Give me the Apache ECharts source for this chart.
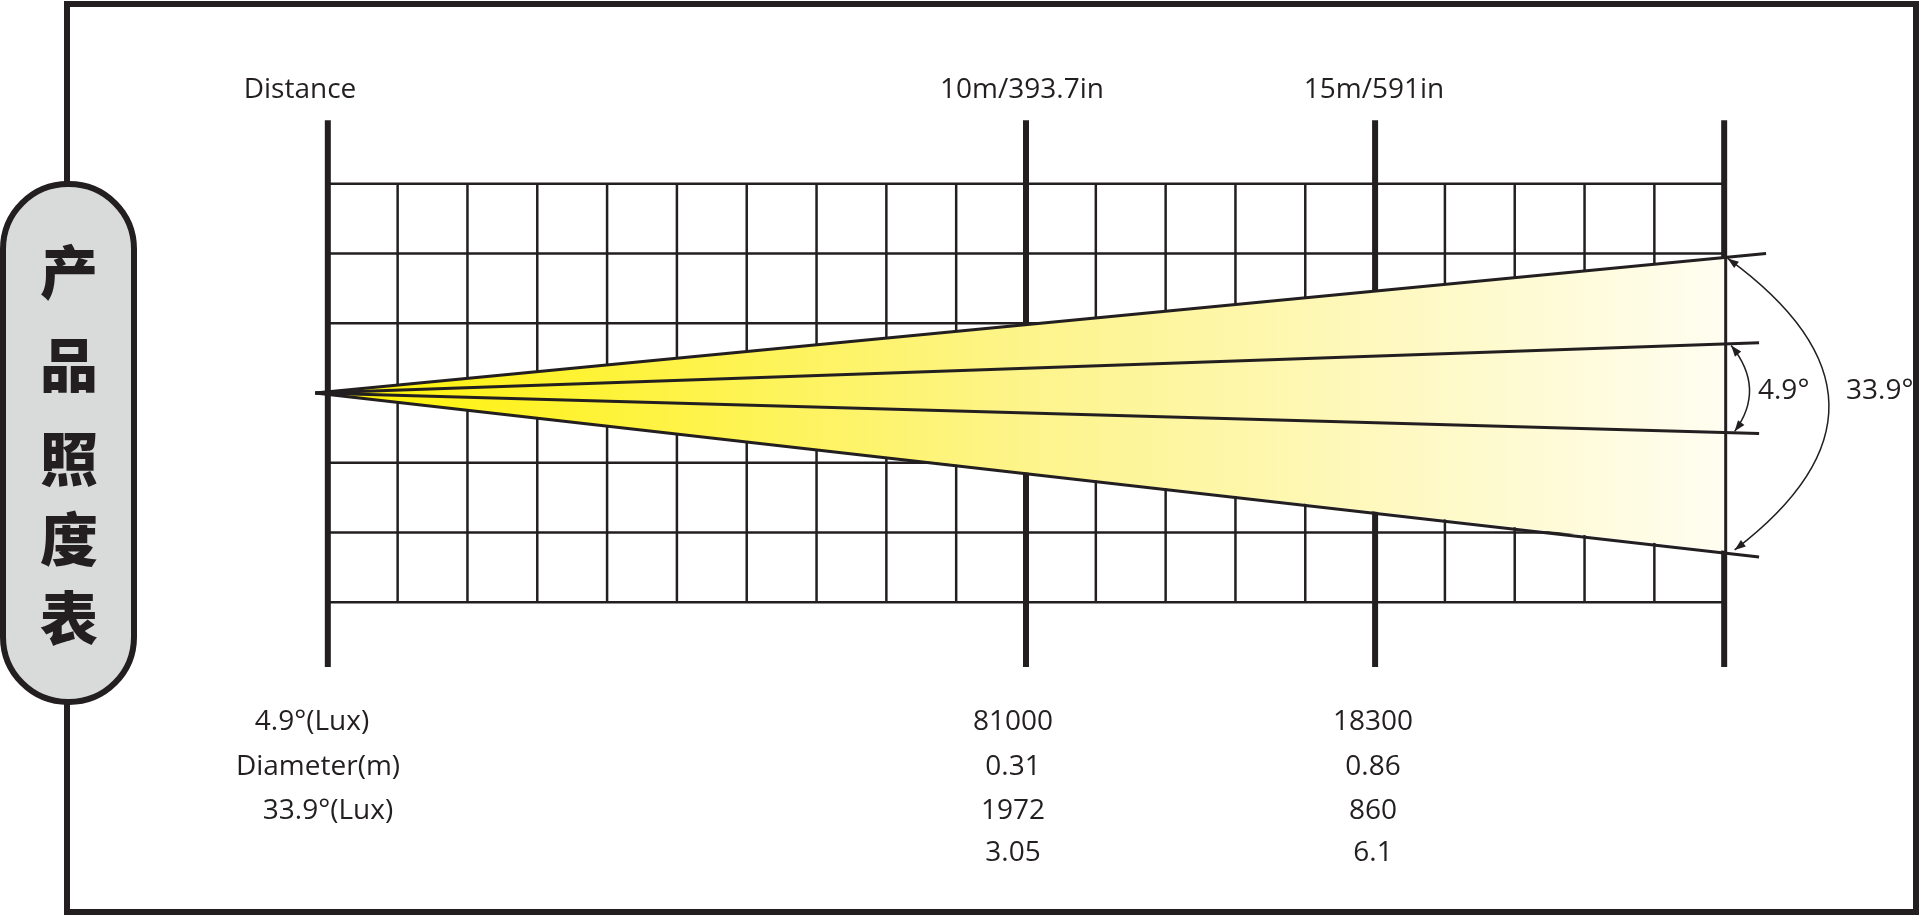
<!DOCTYPE html>
<html>
<head>
<meta charset="utf-8">
<script src="https://cdn.jsdelivr.net/npm/echarts@6/dist/echarts.min.js"></script>
<style>html,body{margin:0;padding:0;background:#fff}#main{width:1920px;height:916px}</style>
</head>
<body>
<div id="main"></div>
<script>
//数据
var distLabels = ['Distance', '10m/393.7in', '15m/591in'];
var distPos = [0, 10, 15, 20];          //粗竖线位置
var rowNames = ['4.9°(Lux)', 'Diameter(m)', '33.9°(Lux)', ''];
var col10 = ['81000', '0.31', '1972', '3.05'];
var col15 = ['18300', '0.86', '860', '6.1'];
var beamApex = [-0.18, 0];
var outerEnd = [[20.6, 2.0], [20.5, -2.35]];   //33.9° 外线
var innerEnd = [[20.5, 0.72], [20.5, -0.58]];  //4.9° 内线
var fillEnd = [[20, 1.95], [20, -2.26]];
var titleChars = ['产', '品', '照', '度', '表'];

var ink = '#231f20';
var font = '"Open Sans", "Noto Sans", sans-serif';

//网格线段
var thinSeg = [];
for (var i = 1; i < 20; i++) { if (distPos.indexOf(i) < 0) thinSeg.push([i, -3, i, 3]); }
[-3, -2, -1, 1, 2, 3].forEach(function (y) { thinSeg.push([0, y, 20, y]); });
var thickSeg = distPos.map(function (x) { return [x, -3.93, x, 3.91]; });

function segSeries(data, w, z) {
	return {
		type: 'custom', coordinateSystem: 'cartesian2d', clip: false, z: z, silent: true,
		data: data,
		renderItem: function (params, api) {
			var p1 = api.coord([api.value(0), api.value(1)]);
			var p2 = api.coord([api.value(2), api.value(3)]);
			return { type: 'line', shape: { x1: p1[0], y1: p1[1], x2: p2[0], y2: p2[1] }, style: { stroke: ink, lineWidth: w } };
		}
	};
}

var chart = echarts.init(document.getElementById('main'));

var graphics = [
	{ type: 'rect', shape: { x: 67, y: 4, width: 1849, height: 908 }, style: { fill: 'none', stroke: ink, lineWidth: 6 }, z: 1 },
	{ type: 'rect', shape: { x: 3, y: 184, width: 131, height: 518, r: 65 }, style: { fill: '#d9dada', stroke: ink, lineWidth: 6 }, z: 2 }
];
var charY = [272, 365, 459, 539, 618];
titleChars.forEach(function (c, k) {
	graphics.push({ type: 'text', x: 69, y: charY[k], style: { text: c, font: '900 58px "Noto Sans CJK SC"', fill: ink, align: 'center', verticalAlign: 'middle' }, z: 3 });
});
var topX = [300, 1022, 1374];
distLabels.forEach(function (t, k) {
	graphics.push({ type: 'text', x: topX[k], y: 90, style: { text: t, font: '28px ' + font, fill: ink, align: 'center', verticalAlign: 'middle' } });
});
var rowY = [722, 767, 811, 853];
var rowX = [312, 318, 328, 0];
rowY.forEach(function (y, k) {
	if (rowNames[k]) graphics.push({ type: 'text', x: rowX[k], y: y, style: { text: rowNames[k], font: '28px ' + font, fill: ink, align: 'center', verticalAlign: 'middle' } });
	graphics.push({ type: 'text', x: 1013, y: y, style: { text: col10[k], font: '28px ' + font, fill: ink, align: 'center', verticalAlign: 'middle' } });
	graphics.push({ type: 'text', x: 1373, y: y, style: { text: col15[k], font: '28px ' + font, fill: ink, align: 'center', verticalAlign: 'middle' } });
});
graphics.push({ type: 'text', x: 1758, y: 391, style: { text: '4.9°', font: '28px ' + font, fill: ink, verticalAlign: 'middle' } });
graphics.push({ type: 'text', x: 1846, y: 391, style: { text: '33.9°', font: '28px ' + font, fill: ink, verticalAlign: 'middle' } });

chart.setOption({
	animation: false,
	grid: { left: 258, right: 126, top: 114, bottom: 244 },
	xAxis: { type: 'value', min: -1, max: 21, show: false },
	yAxis: { type: 'value', min: -4, max: 4, show: false },
	graphic: graphics,
	series: [
		segSeries(thinSeg, 2.5, 2),
		segSeries(thickSeg, 6, 3),
		{
			//光束
			type: 'custom', coordinateSystem: 'cartesian2d', clip: false, z: 4, silent: true,
			data: [[0]],
			renderItem: function (params, api) {
				var a = api.coord(beamApex);
				var pts = [a, api.coord(fillEnd[0]), api.coord(fillEnd[1])];
				var kids = [{
					type: 'polygon', shape: { points: pts },
					style: { fill: new echarts.graphic.LinearGradient(0, 0, 1, 0, [
						{ offset: 0, color: '#fff200' }, { offset: 0.5, color: '#fdf48a' }, { offset: 1, color: '#fffdf0' }]) }
				}];
				outerEnd.concat(innerEnd).forEach(function (e) {
					var b = api.coord(e);
					kids.push({ type: 'line', shape: { x1: a[0], y1: a[1], x2: b[0], y2: b[1] }, style: { stroke: ink, lineWidth: 3 } });
				});
				//角度弧线
				var arcs = [[[20.05, 1.93], [22.9, -0.15], [20.15, -2.25]], [[20.1, 0.68], [20.6, 0.06], [20.15, -0.55]]];
				arcs.forEach(function (ac) {
					var p1 = api.coord(ac[0]), c = api.coord(ac[1]), p2 = api.coord(ac[2]);
					kids.push({ type: 'bezierCurve', shape: { x1: p1[0], y1: p1[1], cpx1: c[0], cpy1: c[1], x2: p2[0], y2: p2[1] }, style: { stroke: ink, lineWidth: 1.5, fill: 'none' } });
					[[p1, c], [p2, c]].forEach(function (pc) {
						var p = pc[0], q = pc[1];
						var dx = q[0] - p[0], dy = q[1] - p[1], l = Math.sqrt(dx * dx + dy * dy);
						dx /= l; dy /= l;
						var s = 11, w = 4;
						kids.push({ type: 'polygon', shape: { points: [p,
							[p[0] + dx * s - dy * w, p[1] + dy * s + dx * w],
							[p[0] + dx * s + dy * w, p[1] + dy * s - dx * w]] }, style: { fill: ink } });
					});
				});
				return { type: 'group', children: kids };
			}
		}
	]
});
</script>
</body>
</html>
